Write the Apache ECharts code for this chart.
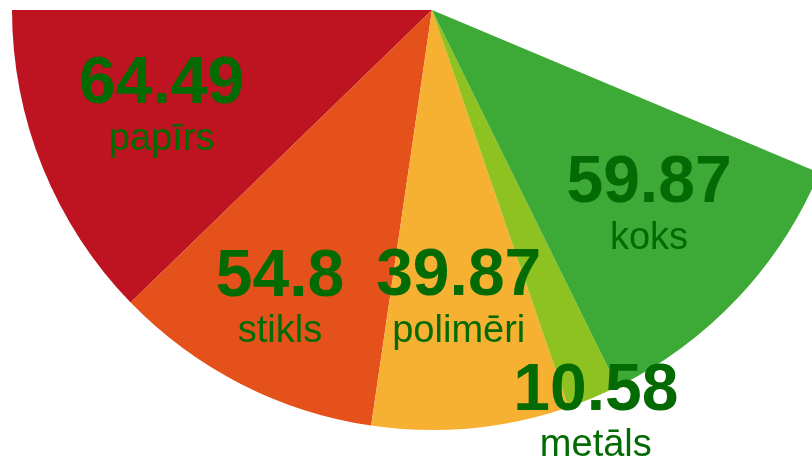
<!DOCTYPE html>
<html>
<head>
<meta charset="utf-8">
<script src="https://cdn.jsdelivr.net/npm/echarts@6/dist/echarts.min.js"></script>
<style>
html,body{margin:0;padding:0;background:#fff;}
#chart{width:812px;height:460px;}
</style>
</head>
<body>
<div id="chart"></div>
<script>
var categories = ['papīrs', 'stikls', 'polimēri', 'metāls', 'koks'];
var values = [64.49, 54.8, 39.87, 10.58, 59.87];
var colors = ['#BE1321', '#E5511B', '#F6B133', '#8DC220', '#3DA936'];
// label nudges (dx, dy) relative to the default inside position
var labelShift = [[-73, 17], [-55, 100], [7, 77], [82, 207], [62, 50]];

var chart = echarts.init(document.getElementById('chart'), null, {renderer: 'canvas'});
var data = categories.map(function (c, i) {
  return {name: c, value: values[i], itemStyle: {color: colors[i]}};
});
chart.setOption({
  animation: false,
  backgroundColor: '#ffffff',
  series: [{
    type: 'pie',
    center: [432, 10],
    radius: [0, 420],
    startAngle: 180,
    endAngle: 337.2,
    clockwise: false,
    itemStyle: {borderWidth: 0},
    label: {
      show: true,
      position: 'inside',
      formatter: '{v|{c}}\n{n|{b}}',
      rich: {
        v: {fontFamily: 'Liberation Sans, Arial, sans-serif', fontSize: 66, fontWeight: 'bold', color: '#046B04', lineHeight: 64, align: 'center'},
        n: {fontFamily: 'Liberation Sans, Arial, sans-serif', fontSize: 38, color: '#046B04', lineHeight: 44, align: 'center'}
      }
    },
    labelLayout: function (p) {
      var s = labelShift[p.dataIndex];
      return {dx: s[0], dy: s[1]};
    },
    labelLine: {show: false},
    emphasis: {disabled: true},
    data: data
  }]
});
</script>
</body>
</html>
